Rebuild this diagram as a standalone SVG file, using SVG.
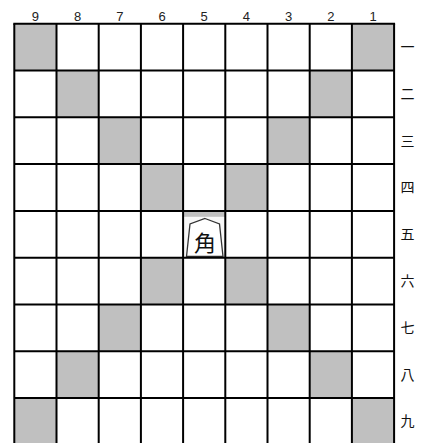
<svg xmlns="http://www.w3.org/2000/svg" width="427" height="443" viewBox="0 0 427 443">
<style>
.cell{fill:#ffffff}
.dark{fill:#c0c0c0}
.grid{stroke:#000;stroke-width:2;fill:none}
.col{font-family:"Liberation Sans",Arial,sans-serif;font-size:13px;fill:#222;text-anchor:middle}
.row{font-family:"Noto Sans CJK JP","Noto Sans CJK SC",sans-serif;font-size:14px;fill:#111;text-anchor:middle}
.piece{font-family:"Noto Sans CJK JP","Noto Sans CJK SC",sans-serif;font-size:22px;fill:#111;text-anchor:middle}
</style>
<rect width="427" height="443" fill="#fff"/>
<g id="shaded">
<rect class="dark" x="14.3" y="23.7" width="42.2" height="46.8"/>
<rect class="dark" x="351.9" y="23.7" width="42.2" height="46.8"/>
<rect class="dark" x="56.5" y="70.5" width="42.2" height="46.8"/>
<rect class="dark" x="309.7" y="70.5" width="42.2" height="46.8"/>
<rect class="dark" x="98.7" y="117.3" width="42.2" height="46.8"/>
<rect class="dark" x="267.5" y="117.3" width="42.2" height="46.8"/>
<rect class="dark" x="140.9" y="164.1" width="42.2" height="46.8"/>
<rect class="dark" x="225.3" y="164.1" width="42.2" height="46.8"/>
<rect class="dark" x="140.9" y="257.7" width="42.2" height="46.8"/>
<rect class="dark" x="225.3" y="257.7" width="42.2" height="46.8"/>
<rect class="dark" x="98.7" y="304.5" width="42.2" height="46.8"/>
<rect class="dark" x="267.5" y="304.5" width="42.2" height="46.8"/>
<rect class="dark" x="56.5" y="351.3" width="42.2" height="46.8"/>
<rect class="dark" x="309.7" y="351.3" width="42.2" height="46.8"/>
<rect class="dark" x="14.3" y="398.1" width="42.2" height="46.8"/>
<rect class="dark" x="351.9" y="398.1" width="42.2" height="46.8"/>
</g>
<g id="piece-5-5">
<rect x="183.1" y="210.9" width="42.2" height="6" fill="#c0c0c0"/>
<rect x="184" y="216.9" width="40.4" height="40" fill="#f7f7f7"/>
<path d="M205,218.5 L219.5,224 L223,256.5 L186.5,256.5 L190,224 Z" fill="#fff" stroke="#333" stroke-width="1.3"/>
<text class="piece" x="205" y="250.5">角</text>
</g>
<g id="grid">
<path class="grid" d="M14.3,23.7V443 M56.5,23.7V443 M98.7,23.7V443 M140.9,23.7V443 M183.1,23.7V443 M225.3,23.7V443 M267.5,23.7V443 M309.7,23.7V443 M351.9,23.7V443 M394.1,23.7V443"/>
<path class="grid" d="M13.3,23.7H395.1 M14.3,70.5H394.1 M14.3,117.3H394.1 M14.3,164.1H394.1 M14.3,210.9H394.1 M14.3,257.7H394.1 M14.3,304.5H394.1 M14.3,351.3H394.1 M14.3,398.1H394.1"/>
</g>
<g id="col-labels">
<text class="col" x="35.4" y="20.5">9</text>
<text class="col" x="77.6" y="20.5">8</text>
<text class="col" x="119.8" y="20.5">7</text>
<text class="col" x="162" y="20.5">6</text>
<text class="col" x="204.2" y="20.5">5</text>
<text class="col" x="246.4" y="20.5">4</text>
<text class="col" x="288.6" y="20.5">3</text>
<text class="col" x="330.8" y="20.5">2</text>
<text class="col" x="373" y="20.5">1</text>
</g>
<g id="row-labels">
<text class="row" x="407.5" y="52">一</text>
<text class="row" x="407.5" y="98.8">二</text>
<text class="row" x="407.5" y="145.6">三</text>
<text class="row" x="407.5" y="192.4">四</text>
<text class="row" x="407.5" y="239.2">五</text>
<text class="row" x="407.5" y="286">六</text>
<text class="row" x="407.5" y="332.8">七</text>
<text class="row" x="407.5" y="379.6">八</text>
<text class="row" x="407.5" y="426.4">九</text>
</g>
</svg>
